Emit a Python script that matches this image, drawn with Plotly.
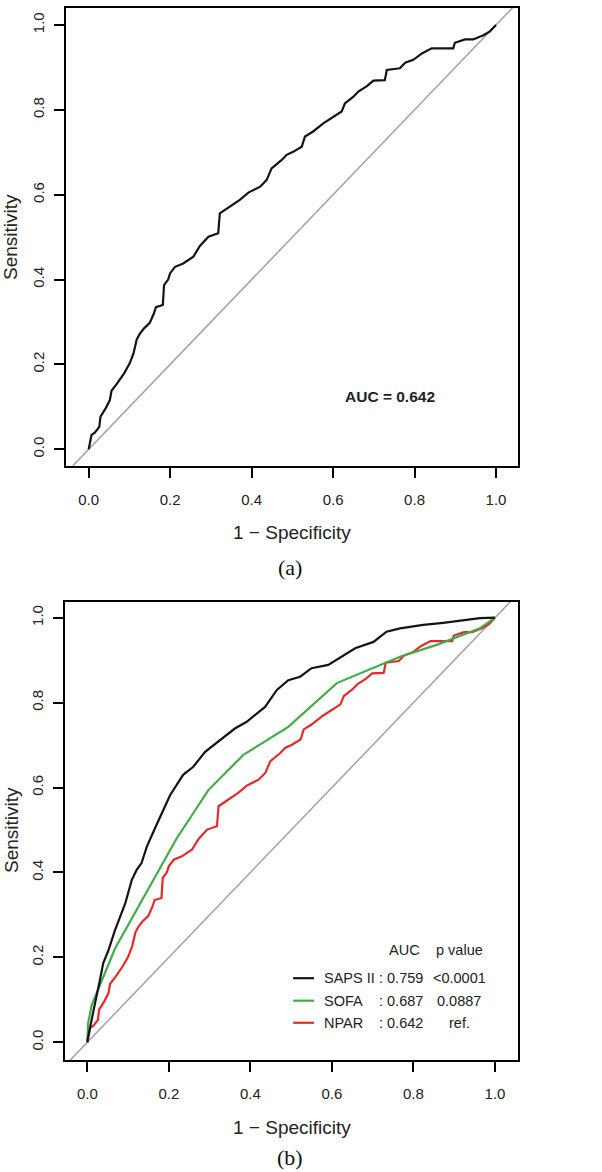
import plotly.graph_objects as go

# ---------------- data ----------------
# NPAR ROC curve (1 - specificity, sensitivity)
npar_fpr = [0.000, 0.003, 0.007, 0.015, 0.026, 0.029, 0.042, 0.052, 0.056, 0.069, 0.087,
            0.101, 0.110, 0.118, 0.126, 0.136, 0.150, 0.160, 0.165, 0.182, 0.183, 0.185,
            0.195, 0.200, 0.212, 0.232, 0.257, 0.273, 0.294, 0.318, 0.322, 0.355, 0.371,
            0.392, 0.421, 0.437, 0.449, 0.474, 0.486, 0.502, 0.523, 0.531, 0.551, 0.576,
            0.601, 0.621, 0.629, 0.650, 0.662, 0.683, 0.699, 0.727, 0.732, 0.764, 0.777,
            0.797, 0.818, 0.842, 0.895, 0.899, 0.924, 0.944, 0.969, 0.985, 1.000]
npar_tpr = [0.000, 0.014, 0.034, 0.039, 0.053, 0.077, 0.097, 0.116, 0.138, 0.154, 0.179,
            0.203, 0.226, 0.259, 0.273, 0.285, 0.298, 0.320, 0.335, 0.340, 0.375, 0.387,
            0.400, 0.415, 0.430, 0.438, 0.454, 0.479, 0.501, 0.509, 0.556, 0.578, 0.588,
            0.605, 0.619, 0.635, 0.662, 0.682, 0.694, 0.701, 0.713, 0.737, 0.749, 0.768,
            0.784, 0.796, 0.815, 0.831, 0.843, 0.856, 0.869, 0.870, 0.894, 0.898, 0.911,
            0.918, 0.933, 0.945, 0.945, 0.958, 0.966, 0.966, 0.976, 0.985, 1.000]

# SAPS II ROC curve
saps_fpr = [0.000, 0.002, 0.013, 0.023, 0.031, 0.039, 0.052, 0.068, 0.093, 0.109, 0.121,
            0.133, 0.146, 0.166, 0.182, 0.203, 0.235, 0.260, 0.289, 0.325, 0.362, 0.391,
            0.411, 0.436, 0.465, 0.493, 0.522, 0.550, 0.591, 0.628, 0.657, 0.702, 0.734,
            0.767, 0.824, 0.873, 0.935, 0.963, 1.000]
saps_tpr = [0.000, 0.012, 0.064, 0.115, 0.147, 0.186, 0.217, 0.264, 0.327, 0.382, 0.406,
            0.422, 0.461, 0.504, 0.539, 0.582, 0.630, 0.649, 0.684, 0.712, 0.739, 0.755,
            0.771, 0.790, 0.830, 0.853, 0.861, 0.881, 0.889, 0.912, 0.928, 0.943, 0.967,
            0.975, 0.983, 0.988, 0.996, 0.999, 1.000]

# SOFA ROC curve
sofa_fpr = [0.000, 0.002, 0.011, 0.068, 0.219, 0.297, 0.383, 0.493, 0.612, 0.767, 0.857, 0.963, 1.000]
sofa_tpr = [0.000, 0.045, 0.088, 0.221, 0.480, 0.594, 0.677, 0.743, 0.846, 0.908, 0.936, 0.975, 1.000]

ticks = [0.0, 0.2, 0.4, 0.6, 0.8, 1.0]
tick_text = ["0.0", "0.2", "0.4", "0.6", "0.8", "1.0"]

models = ["SAPS II", "SOFA", "NPAR"]
aucs = [": 0.759", ": 0.687", ": 0.642"]
pvals = ["<0.0001", "0.0887", "ref."]
colors = ["#141414", "#3fae49", "#e42a2a"]

W, H = 602, 1172
FONT = "Liberation Sans, Arial, sans-serif"

# axis ranges (with R's extension)
xr_a = [-0.0557, 1.054]
yr_a = [-0.0387, 1.0412]
xr_b = [-0.0547, 1.0557]
yr_b = [-0.0417, 1.0377]

fig = go.Figure()

# ---- panel (a) ----
fig.add_trace(go.Scatter(x=xr_a, y=xr_a, mode="lines", line=dict(color="#a6a6a6", width=1.6),
                         xaxis="x", yaxis="y", showlegend=False, hoverinfo="skip"))
fig.add_trace(go.Scatter(x=npar_fpr, y=npar_tpr, mode="lines", line=dict(color="#141414", width=2.2),
                         xaxis="x", yaxis="y", showlegend=False))

# ---- panel (b) ----
fig.add_trace(go.Scatter(x=xr_b, y=xr_b, mode="lines", line=dict(color="#a6a6a6", width=1.6),
                         xaxis="x2", yaxis="y2", showlegend=False, hoverinfo="skip"))
for fx, ty, c in [(npar_fpr, npar_tpr, colors[2]), (sofa_fpr, sofa_tpr, colors[1]),
                  (saps_fpr, saps_tpr, colors[0])]:
    fig.add_trace(go.Scatter(x=fx, y=ty, mode="lines", line=dict(color=c, width=2.2),
                             xaxis="x2", yaxis="y2", showlegend=False))

def px_dom(a, b, total, flip=False):
    if flip:
        return [1 - b / total, 1 - a / total]
    return [a / total, b / total]

axis_common = dict(
    showgrid=False, zeroline=False, showline=True, mirror=True, linecolor="black", linewidth=2,
    ticks="outside", ticklen=10, tickwidth=1.5, tickcolor="black",
    tickvals=ticks, ticktext=tick_text, tickfont=dict(family=FONT, size=15, color="#222"),
    fixedrange=True,
)

fig.update_layout(
    width=W, height=H, autosize=False,
    margin=dict(l=0, r=0, t=0, b=0),
    paper_bgcolor="white", plot_bgcolor="white",
    xaxis=dict(domain=px_dom(66, 518, W), range=xr_a, anchor="y", ticklabelstandoff=9, **axis_common),
    yaxis=dict(domain=px_dom(7.5, 465.7, H, flip=True), range=yr_a, anchor="x", tickangle=-90,
               ticklabelstandoff=4, **axis_common),
    xaxis2=dict(domain=px_dom(65, 517.7, W), range=xr_b, anchor="y2", ticklabelstandoff=9, **axis_common),
    yaxis2=dict(domain=px_dom(601.7, 1060, H, flip=True), range=yr_b, anchor="x2", tickangle=-90,
                ticklabelstandoff=4, **axis_common),
)

ann = []
def paper_text(text, px, py, size, family=FONT, angle=0, bold=False, color="#222"):
    ann.append(dict(text=("<b>%s</b>" % text) if bold else text, xref="paper", yref="paper",
                    x=px / W, y=1 - py / H, xanchor="center", yanchor="middle", showarrow=False,
                    textangle=angle, font=dict(family=family, size=size, color=color)))

# axis titles and panel labels
paper_text("Sensitivity", 11, 237, 19, angle=-90)
paper_text("1 − Specificity", 292, 533, 19)
paper_text("(a)", 290, 567, 22, family="Liberation Serif, Times New Roman, serif", color="#111")
paper_text("Sensitivity", 11, 830, 19, angle=-90)
paper_text("1 − Specificity", 292, 1127, 19)
paper_text("(b)", 290, 1157, 22, family="Liberation Serif, Times New Roman, serif", color="#111")

# AUC text in (a)
ann.append(dict(text="<b>AUC = 0.642</b>", xref="x", yref="y", x=0.74, y=0.124, showarrow=False,
                xanchor="center", yanchor="middle", font=dict(family=FONT, size=15.5, color="#222")))

# legend table in (b)
ann.append(dict(text="AUC", xref="x2", yref="y2", x=0.778, y=0.217, showarrow=False,
                xanchor="center", yanchor="middle", font=dict(family=FONT, size=14.5, color="#222")))
ann.append(dict(text="p value", xref="x2", yref="y2", x=0.912, y=0.217, showarrow=False,
                xanchor="center", yanchor="middle", font=dict(family=FONT, size=14.5, color="#222")))
row_y = [0.151, 0.098, 0.046]
shapes = []
for m, a, p, c, yv in zip(models, aucs, pvals, colors, row_y):
    ann.append(dict(text=m, xref="x2", yref="y2", x=0.575, y=yv, showarrow=False,
                    xanchor="left", yanchor="middle", font=dict(family=FONT, size=14.5, color="#222")))
    ann.append(dict(text=a, xref="x2", yref="y2", x=0.710, y=yv, showarrow=False,
                    xanchor="left", yanchor="middle", font=dict(family=FONT, size=14.5, color="#222")))
    ann.append(dict(text=p, xref="x2", yref="y2", x=0.912, y=yv, showarrow=False,
                    xanchor="center", yanchor="middle", font=dict(family=FONT, size=14.5, color="#222")))
    shapes.append(dict(type="line", xref="x2", yref="y2", x0=0.505, x1=0.556, y0=yv, y1=yv,
                       line=dict(color=c, width=2.2)))

fig.update_layout(annotations=ann, shapes=shapes)

fig.write_html("out.html", config={"displayModeBar": False},
               post_script="document.body.style.margin='0';document.body.style.overflow='hidden';")
